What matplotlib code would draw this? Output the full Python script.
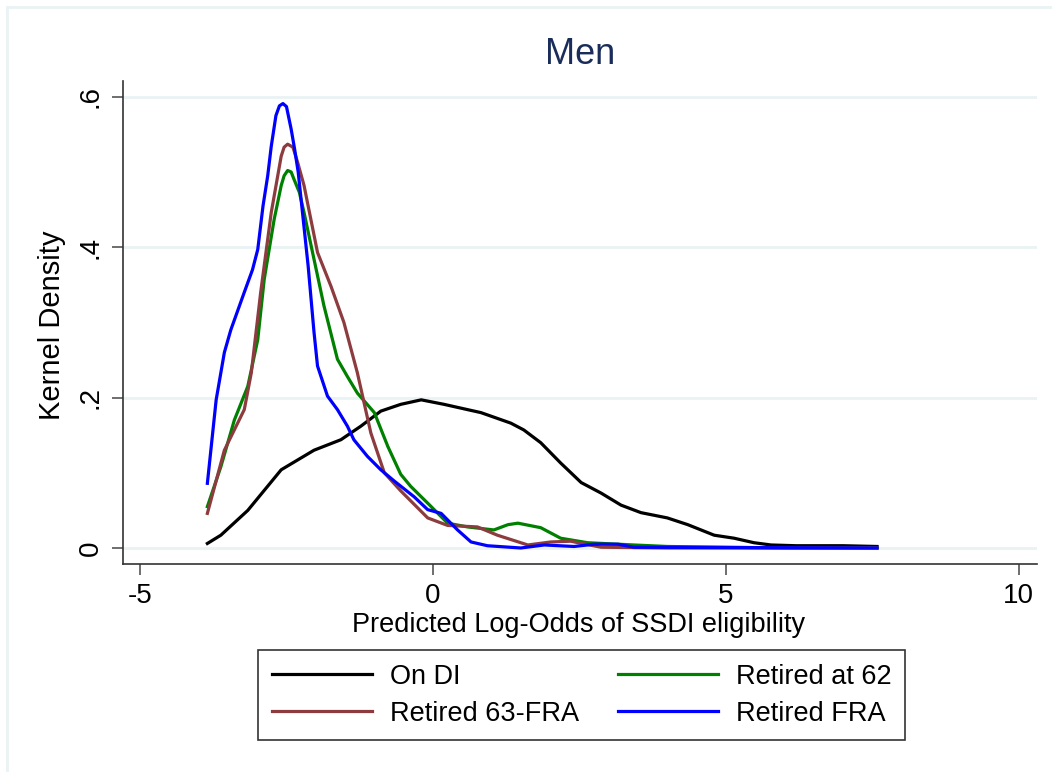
import matplotlib
matplotlib.use("Agg")
import matplotlib.pyplot as plt
from matplotlib.patches import Rectangle

# kernel density curves
ondi_x = [-3.85, -3.62, -3.16, -2.59, -2.03, -1.57, -1.23, -0.89, -0.55, -0.2, 0.19, 0.59, 0.82, 1.33, 1.55,
          1.84, 2.18, 2.53, 2.87, 3.21, 3.55, 4.0, 4.35, 4.8, 5.14, 5.48, 5.77, 6.2, 7.0, 7.58]
ondi_y = [0.006, 0.017, 0.05, 0.104, 0.13, 0.144, 0.162, 0.182, 0.191, 0.197, 0.191, 0.184, 0.18, 0.166, 0.157,
          0.14, 0.113, 0.087, 0.073, 0.057, 0.047, 0.040, 0.031, 0.017, 0.013, 0.007, 0.004, 0.003, 0.003, 0.002]

r62_x = [-3.85, -3.62, -3.39, -3.16, -2.99, -2.88, -2.71, -2.59, -2.54, -2.48, -2.42, -2.37, -2.28, -2.2, -2.03,
         -1.86, -1.63, -1.46, -1.29, -1.0, -0.77, -0.55, -0.38, -0.03, 0.25, 0.59, 1.04, 1.28, 1.45, 1.84, 2.18,
         2.64, 3.43, 4.0, 5.0, 6.0, 7.58]
r62_y = [0.055, 0.108, 0.17, 0.215, 0.277, 0.357, 0.437, 0.482, 0.495, 0.502, 0.5, 0.49, 0.473, 0.446, 0.384,
         0.322, 0.251, 0.228, 0.206, 0.18, 0.135, 0.098, 0.082, 0.055, 0.033, 0.028, 0.024, 0.031, 0.033, 0.027,
         0.013, 0.007, 0.004, 0.002, 0.001, 0.0, 0.0]

r63_x = [-3.85, -3.56, -3.22, -3.1, -2.94, -2.76, -2.59, -2.54, -2.48, -2.39, -2.31, -2.2, -1.97, -1.74, -1.52,
         -1.29, -1.06, -0.83, -0.55, -0.09, 0.25, 0.76, 1.1, 1.62, 2.01, 2.35, 2.87, 4.0, 7.58]
r63_y = [0.046, 0.13, 0.184, 0.233, 0.34, 0.446, 0.521, 0.533, 0.537, 0.533, 0.513, 0.482, 0.393, 0.348, 0.3,
         0.233, 0.153, 0.1, 0.076, 0.04, 0.030, 0.028, 0.017, 0.004, 0.008, 0.009, 0.001, 0.0, 0.0]

rfra_x = [-3.85, -3.7, -3.56, -3.45, -3.22, -3.08, -2.99, -2.9, -2.82, -2.76, -2.68, -2.62, -2.56, -2.5, -2.42,
          -2.36, -2.3, -2.13, -2.03, -1.97, -1.8, -1.63, -1.46, -1.35, -1.12, -0.89, -0.66, -0.32, -0.09, 0.14,
          0.42, 0.65, 0.93, 1.5, 1.9, 2.41, 2.75, 3.16, 3.43, 7.58]
rfra_y = [0.086, 0.197, 0.26, 0.29, 0.34, 0.37, 0.397, 0.455, 0.495, 0.534, 0.575, 0.588, 0.591, 0.587, 0.557,
          0.53, 0.5, 0.375, 0.287, 0.242, 0.202, 0.184, 0.162, 0.144, 0.122, 0.104, 0.089, 0.068, 0.051, 0.046,
          0.024, 0.008, 0.003, 0.0, 0.004, 0.002, 0.005, 0.005, 0.001, 0.0]

xticks = [-5, 0, 5, 10]
yticks = [0, 0.2, 0.4, 0.6]
ytick_labels = ["0", ".2", ".4", ".6"]

plt.rcParams['font.family'] = ['Liberation Sans', 'DejaVu Sans']
plt.rcParams['axes.unicode_minus'] = False

grid_col = "#eaf2f3"
lw = 2.3
W, H = 1052, 772

fig = plt.figure(figsize=(W / 100, H / 100), dpi=100)
# outer graph region border (only top/left edges show in the crop)
fig.patches.append(Rectangle((7 / W, -0.2), 1.3, 1.2 - 7 / H, transform=fig.transFigure,
                             fill=False, edgecolor=grid_col, linewidth=2))
ax = fig.add_axes([123 / W, 1 - 564 / H, (1037 - 123) / W, (564 - 81) / H])

for y in yticks:
    ax.axhline(y, color=grid_col, linewidth=2, zorder=0)

l1, = ax.plot(ondi_x, ondi_y, color="black", lw=lw, label="On DI")
l2, = ax.plot(r62_x, r62_y, color="#008000", lw=lw, label="Retired at 62")
l3, = ax.plot(r63_x, r63_y, color="#8c3c3e", lw=lw, label="Retired 63-FRA")
l4, = ax.plot(rfra_x, rfra_y, color="#0000ff", lw=lw, label="Retired FRA")

ax.set_xlim(-5.29, 10.31)
ax.set_ylim(-0.0213, 0.621)
ax.set_xticks(xticks)
ax.set_yticks(yticks)
ax.set_yticklabels(ytick_labels, rotation=90, va="center")
ax.tick_params(axis="both", length=8, width=1.2, color="#555555", labelsize=20, pad=6)
for s in ["top", "right"]:
    ax.spines[s].set_visible(False)
for s in ["left", "bottom"]:
    ax.spines[s].set_linewidth(1.2)
    ax.spines[s].set_color("#333333")

fig.text(579 / W, 1 - 632 / H, "Predicted Log-Odds of SSDI eligibility", ha="center", va="baseline",
         fontsize=19.5)
fig.text(52 / W, 1 - 325 / H, "Kernel Density", ha="center", va="center", rotation=90, fontsize=21)
fig.text(580 / W, 1 - 54 / H, "Men", ha="center", va="center", fontsize=26, color="#1a2d5a")

leg = fig.legend([l1, l3, l2, l4], [l1.get_label(), l3.get_label(), l2.get_label(), l4.get_label()],
                 ncol=2, loc="upper left", bbox_to_anchor=(258 / W, 1 - 650 / H), borderaxespad=0,
                 fontsize=19.5, frameon=True, fancybox=False, edgecolor="black", handlelength=3.7,
                 columnspacing=1.45, handletextpad=0.66, labelspacing=0.42, borderpad=0.5)
leg.get_frame().set_linewidth(1.2)

fig.savefig("out.png", dpi=100)
